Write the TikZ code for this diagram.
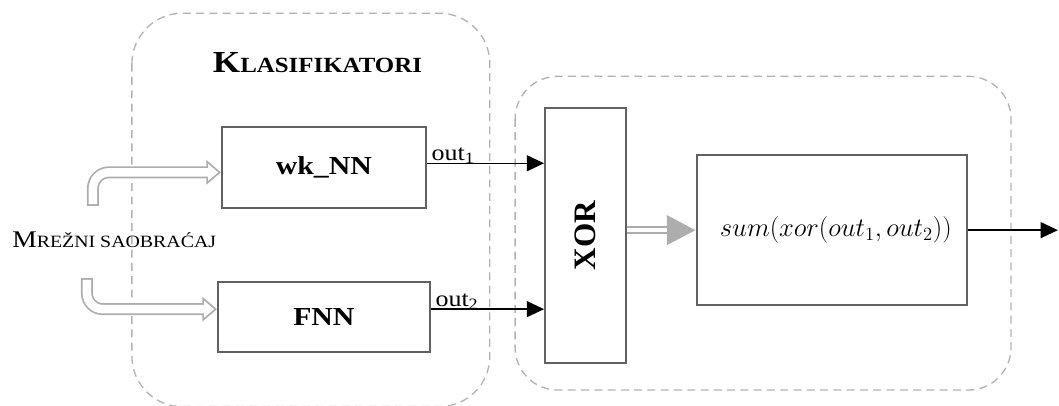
\RequirePackage{fix-cm}
\documentclass[tikz,border=0pt]{standalone}
\usepackage{fontspec}
\setmainfont[FakeStretch=1.15]{Liberation Serif}
\newfontfamily\xorfont{Liberation Serif}
\usepackage{tikz}
\usetikzlibrary{arrows.meta}

\tikzset{
	block/.style={draw=black!62, line width=1.4pt, fill=white, inner sep=0pt},
	region/.style={draw=black!30, line width=1pt, dash pattern=on 6pt off 4pt},
	sig/.style={line width=1.1pt, -{Triangle[length=13pt,width=12pt]}},
	inarrow/.style={draw=black!32, line width=9pt, rounded corners=12pt, -{Triangle[length=11pt,width=18pt]},
		postaction={draw=white, line width=6.4pt, -{Triangle[length=7.6pt,width=12.4pt]}, shorten >=2.1pt, shorten <=1.3pt}},
	grayarrow/.style={draw=black!32, line width=5.8pt, -{Triangle[length=22pt,width=21pt]},
		postaction={draw=white, line width=3.2pt, -, shorten >=22pt}}
}

\begin{document}
\begin{tikzpicture}
\useasboundingbox (0,0) rectangle (28.02,10.72);

% dashed regions
\draw[region, rounded corners=38pt] (3.49,10.37) rectangle (12.96,-0.04);
\draw[region, rounded corners=32pt] (13.63,8.70) rectangle (26.75,0.40);

\node[anchor=base, inner sep=0pt] (klas) at (8.40,8.81) {\fontsize{23}{26}\selectfont\bfseries K\fontsize{16.3}{19}\selectfont LASIFIKATORI};
\node[anchor=base west, inner sep=0pt] (traffic) at (0.32,4.18) {\fontsize{18}{21}\selectfont M\fontsize{13}{15}\selectfont REŽNI SAOBRAĆAJ};

\node[block, minimum width=5.40cm, minimum height=2.14cm] (wknn) at (8.57,6.28) {\fontsize{19.5}{22}\selectfont\bfseries wk\_NN};
\node[block, minimum width=5.61cm, minimum height=1.85cm] (fnn) at (8.57,2.33) {\fontsize{19.5}{22}\selectfont\bfseries FNN};
\node[block, minimum width=2.14cm, minimum height=6.75cm] (xor) at (15.49,4.49) {};
\node[rotate=90, inner sep=0pt] (xorlabel) at (xor.center) {\xorfont\fontsize{23.5}{26}\selectfont\bfseries XOR};
\node[block, minimum width=7.14cm, minimum height=3.97cm] (sum) at (22.01,4.63) {\hspace{6pt}\fontsize{20}{23}\selectfont $sum(xor(out_1,out_2))$};

\coordinate (in1) at (2.46,5.27);
\coordinate (in2) at (2.30,3.36);
\coordinate (outend) at (27.99,4.63);

% inputs
\draw[inarrow] (in1) |- ([yshift=-0.12cm]wknn.west);
\draw[inarrow] (in2) |- ([yshift=0.21cm]fnn.west);

% classifier outputs
\draw[sig] ([yshift=0.12cm]wknn.east) -- ([yshift=0.12cm]wknn.east -| xor.west)
	node[pos=0, anchor=base west, inner sep=0pt, xshift=3pt, yshift=2pt] {\fontsize{17}{19}\selectfont out\textsubscript{1}};
\draw[sig] ([yshift=0.21cm]fnn.east) -- ([yshift=0.21cm]fnn.east -| xor.west)
	node[pos=0, anchor=base west, inner sep=0pt, xshift=3pt, yshift=2pt] {\fontsize{17}{19}\selectfont out\textsubscript{2}};

\draw[grayarrow] (xor.east |- sum.west) -- (sum.west);
\draw[sig] (sum.east) -- (outend);
\end{tikzpicture}
\end{document}
